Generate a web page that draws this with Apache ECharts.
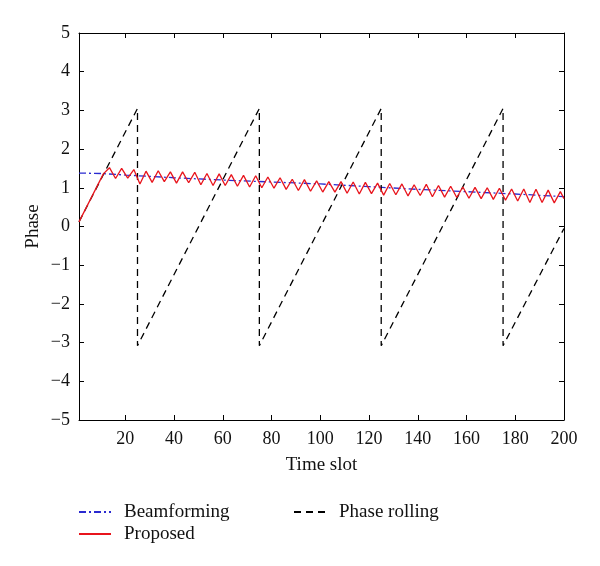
<!DOCTYPE html>
<html>
<head>
<meta charset="utf-8">
<script src="https://cdn.jsdelivr.net/npm/echarts@6/dist/echarts.min.js"></script>
<style>html,body{margin:0;padding:0;background:#fff}#c{width:600px;height:566px}</style>
</head>
<body>
<div id="c"></div>
<script>
const slotTicks = [20, 40, 60, 80, 100, 120, 140, 160, 180, 200];
const phaseTicks = [-5, -4, -3, -2, -1, 0, 1, 2, 3, 4, 5];

const beamX = [1, 10, 20, 40, 60, 80, 100, 120, 140, 160, 180, 200];
const beamY = [1.38, 1.37, 1.33, 1.26, 1.2, 1.15, 1.1, 1.03, 0.96, 0.9, 0.84, 0.77];

const rollX = [1, 25, 25, 75, 75, 125, 125, 175, 175, 200];
const rollY = [0.12, 3.05, -3.08, 3.05, -3.08, 3.05, -3.08, 3.05, -3.08, -0.05];

const propX = [1, 11, 13.5, 16, 18.5, 21, 23.5, 26, 28.5, 31, 33.5, 36, 38.5, 41, 43.5, 46, 48.5, 51, 53.5, 56, 58.5,
  61, 63.5, 66, 68.5, 71, 73.5, 76, 78.5, 81, 83.5, 86, 88.5, 91, 93.5, 96, 98.5, 101, 103.5, 106, 108.5,
  111, 113.5, 116, 118.5, 121, 123.5, 126, 128.5, 131, 133.5, 136, 138.5, 141, 143.5, 146, 148.5, 151, 153.5,
  156, 158.5, 161, 163.5, 166, 168.5, 171, 173.5, 176, 178.5, 181, 183.5, 186, 188.5, 191, 193.5, 196, 198.5, 200];
const propY = [0.12, 1.36, 1.52, 1.24, 1.5, 1.25, 1.47, 1.1, 1.43, 1.14, 1.44, 1.16, 1.41, 1.12, 1.41, 1.13, 1.4, 1.08, 1.37, 1.06, 1.36,
  1.06, 1.34, 1.04, 1.32, 1.02, 1.31, 1.0, 1.28, 0.99, 1.26, 0.96, 1.22, 0.93, 1.21, 0.91, 1.18, 0.89, 1.16, 0.89, 1.16,
  0.86, 1.15, 0.84, 1.14, 0.85, 1.12, 0.81, 1.11, 0.82, 1.1, 0.79, 1.08, 0.8, 1.09, 0.77, 1.06, 0.76, 1.04,
  0.75, 1.02, 0.73, 1.01, 0.72, 1.0, 0.7, 0.99, 0.68, 0.97, 0.66, 0.97, 0.62, 0.96, 0.62, 0.94, 0.61, 0.9, 0.72];

const zip = (xs, ys) => xs.map((x, i) => [x, ys[i]]);
const FONT = '"Liberation Serif", "DejaVu Serif", serif';
const minus = v => (v < 0 ? '\u2212' + Math.abs(v) : String(v));

const chart = echarts.init(document.getElementById('c'), null, { renderer: 'canvas' });

const axisLine = { show: true, onZero: false, lineStyle: { color: '#000', width: 1 } };
const tick = { show: true, inside: true, length: 5, lineStyle: { color: '#000', width: 1 } };

const legendBase = {
  itemWidth: 32, itemHeight: 20,
  itemStyle: { opacity: 0 },
  textStyle: { fontFamily: FONT, fontSize: 19, color: '#111', lineHeight: 20, padding: [0, 0, 0, 8] }
};

chart.setOption({
  animation: false,
  backgroundColor: '#fff',
  grid: { left: 79, right: 36, top: 33, bottom: 146 },
  xAxis: [
    {
      type: 'value', min: 1, max: 200, position: 'bottom',
      name: 'Time slot', nameLocation: 'middle', nameGap: 36, nameMoveOverlap: false,
      nameTextStyle: { fontFamily: FONT, fontSize: 19, color: '#111' },
      axisLine: axisLine,
      axisTick: Object.assign({ customValues: slotTicks }, tick),
      axisLabel: { customValues: slotTicks, fontFamily: FONT, fontSize: 18, color: '#111', margin: 10 },
      splitLine: { show: false }
    },
    {
      type: 'value', min: 1, max: 200, position: 'top',
      axisLine: axisLine,
      axisTick: Object.assign({ customValues: slotTicks }, tick),
      axisLabel: { show: false },
      splitLine: { show: false }
    }
  ],
  yAxis: [
    {
      type: 'value', min: -5, max: 5, interval: 1, position: 'left',
      name: 'Phase', nameLocation: 'middle', nameGap: 36, nameMoveOverlap: false,
      nameTextStyle: { fontFamily: FONT, fontSize: 19, color: '#111' },
      axisLine: axisLine, axisTick: tick,
      axisLabel: { fontFamily: FONT, fontSize: 18, color: '#111', margin: 9, formatter: minus },
      splitLine: { show: false }
    },
    {
      type: 'value', min: -5, max: 5, interval: 1, position: 'right',
      axisLine: axisLine, axisTick: tick,
      axisLabel: { show: false },
      splitLine: { show: false }
    }
  ],
  legend: [
    Object.assign({}, legendBase, { data: ['Beamforming'], left: 73, top: 497 }),
    Object.assign({}, legendBase, { data: ['Proposed'], left: 73, top: 519 }),
    Object.assign({}, legendBase, { data: ['Phase rolling'], left: 288, top: 497 })
  ],
  series: [
    {
      name: 'Beamforming', type: 'line', data: zip(beamX, beamY), symbol: 'none',
      lineStyle: { color: '#2a2ad0', width: 1.3, type: [7, 3, 2, 3] }, itemStyle: { color: '#2a2ad0' }
    },
    {
      name: 'Phase rolling', type: 'line', data: zip(rollX, rollY), symbol: 'none',
      lineStyle: { color: '#000', width: 1.3, type: [7, 5] }, itemStyle: { color: '#000' }
    },
    {
      name: 'Proposed', type: 'line', data: zip(propX, propY), symbol: 'none',
      lineStyle: { color: '#e8141c', width: 1.3, type: 'solid' }, itemStyle: { color: '#e8141c' }
    }
  ]
});
</script>
</body>
</html>
